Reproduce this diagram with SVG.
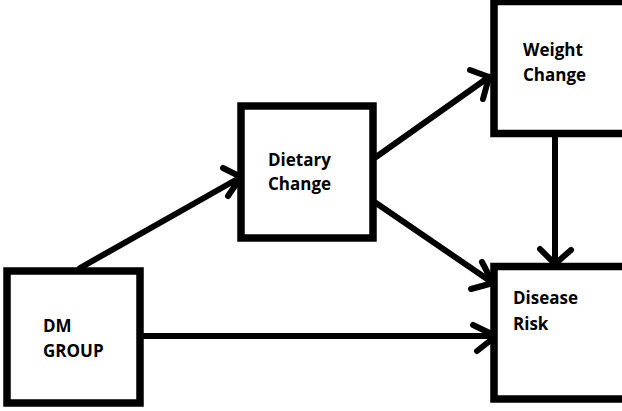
<svg xmlns="http://www.w3.org/2000/svg" width="622" height="411" viewBox="0 0 622 411">
<style>
.box{fill:#fff;stroke:#000;stroke-width:7.5}
.lbl{font-family:"Open Sans","Noto Sans",sans-serif;font-weight:bold;font-size:17px;fill:#000}
.ln{fill:none;stroke:#000;stroke-width:6;stroke-linecap:round;stroke-linejoin:round}
</style>
<rect width="622" height="411" fill="#fff"/>
<g id="connectors">
<path class="ln" d="M80,268 L241,177 M223,168 L241,177 L228,196"/>
<path class="ln" d="M376,157 L489,77 M470,70 L489,77 L483,99"/>
<path class="ln" d="M376,203 L493,283 M482,262 L493,283 L471,289"/>
<path class="ln" d="M144,336 L496,336 M473,325 L496,336 L477,351"/>
<path class="ln" d="M555,137 L555,264 M540,249 L555,264 L571,250"/>
</g>
<g id="dm-group">
<rect class="box" x="7" y="271" width="133" height="132"/>
<text class="lbl" x="43" y="332">DM</text>
<text class="lbl" x="43" y="357">GROUP</text>
</g>
<g id="dietary-change">
<rect class="box" x="241" y="106" width="132" height="132"/>
<text class="lbl" x="268" y="166">Dietary</text>
<text class="lbl" x="268" y="190">Change</text>
</g>
<g id="weight-change">
<rect class="box" x="494" y="1.5" width="140" height="132"/>
<text class="lbl" x="523" y="56">Weight</text>
<text class="lbl" x="523" y="81">Change</text>
</g>
<g id="disease-risk">
<rect class="box" x="494" y="266.5" width="140" height="132.5"/>
<text class="lbl" x="513" y="304">Disease</text>
<text class="lbl" x="513" y="330">Risk</text>
</g>
</svg>
